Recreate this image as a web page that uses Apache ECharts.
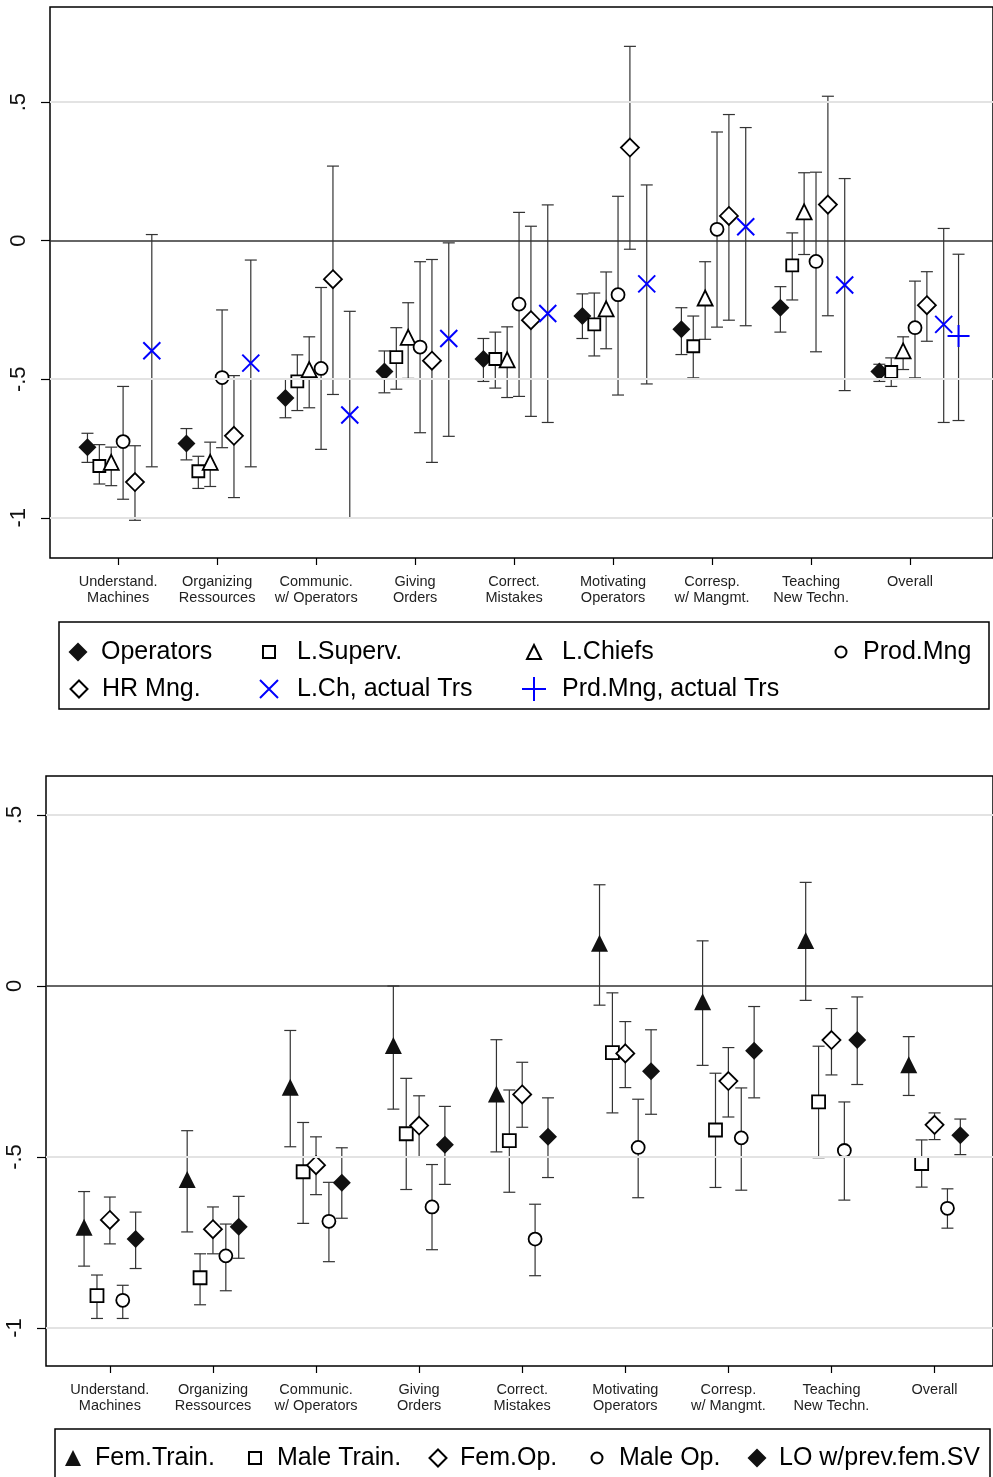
<!DOCTYPE html>
<html>
<head>
<meta charset="utf-8">
<script src="https://cdn.jsdelivr.net/npm/echarts@6/dist/echarts.min.js"></script>
<style>
html, body { margin: 0; padding: 0; background: #fff; }
#main { width: 993px; height: 1477px; }
</style>
</head>
<body>
<div id="main"></div>
<script>
var categories = ['Understand.\nMachines', 'Organizing\nRessources', 'Communic.\nw/ Operators', 'Giving\nOrders',
    'Correct.\nMistakes', 'Motivating\nOperators', 'Corresp.\nw/ Mangmt.', 'Teaching\nNew Techn.', 'Overall'];
var catTicks = [1, 2, 3, 4, 5, 6, 7, 8, 9];
var yTicks = [-1, -0.5, 0, 0.5];

// top panel, each entry: [estimate, ci low, ci high]
var operators = [[-0.745, -0.800, -0.695], [-0.732, -0.791, -0.678], [-0.568, -0.639, -0.500], [-0.472, -0.549, -0.398],
    [-0.427, -0.508, -0.353], [-0.272, -0.353, -0.192], [-0.320, -0.411, -0.242], [-0.242, -0.330, -0.166], [-0.472, -0.508, -0.446]];
var lSuperv = [[-0.813, -0.878, -0.736], [-0.832, -0.894, -0.778], [-0.508, -0.613, -0.412], [-0.420, -0.536, -0.314],
    [-0.427, -0.532, -0.330], [-0.302, -0.416, -0.189], [-0.381, -0.495, -0.272], [-0.089, -0.214, 0.028], [-0.474, -0.526, -0.423]];
var lChiefs = [[-0.800, -0.884, -0.745], [-0.800, -0.887, -0.727], [-0.465, -0.603, -0.347], [-0.349, -0.497, -0.224],
    [-0.430, -0.566, -0.311], [-0.246, -0.390, -0.113], [-0.207, -0.356, -0.076], [0.104, -0.050, 0.245], [-0.398, -0.465, -0.347]];
var prodMng = [[-0.725, -0.933, -0.526], [-0.494, -0.747, -0.250], [-0.461, -0.753, -0.169], [-0.384, -0.693, -0.076],
    [-0.229, -0.562, 0.102], [-0.195, -0.557, 0.160], [0.041, -0.312, 0.392], [-0.075, -0.401, 0.247], [-0.314, -0.495, -0.146]];
var hrMng = [[-0.871, -1.009, -0.740], [-0.704, -0.927, -0.487], [-0.139, -0.555, 0.269], [-0.433, -0.800, -0.068],
    [-0.287, -0.634, 0.052], [0.336, -0.031, 0.701], [0.089, -0.287, 0.455], [0.130, -0.271, 0.521], [-0.233, -0.363, -0.112]];
var lChActual = [[-0.397, -0.816, 0.022], [-0.442, -0.816, -0.070], [-0.629, -1.000, -0.255], [-0.353, -0.706, -0.008],
    [-0.263, -0.656, 0.129], [-0.156, -0.517, 0.201], [0.050, -0.307, 0.408], [-0.160, -0.541, 0.224], [-0.302, -0.656, 0.044]];
var prdMngActual = [null, null, null, null, null, null, null, null, [-0.344, -0.649, -0.049]];

// bottom panel
var femTrain = [[-0.705, -0.819, -0.601], [-0.566, -0.719, -0.423], [-0.296, -0.470, -0.130], [-0.174, -0.360, 0.000],
    [-0.316, -0.485, -0.157], [0.125, -0.056, 0.296], [-0.046, -0.232, 0.132], [0.133, -0.042, 0.303], [-0.230, -0.320, -0.148]];
var maleTrain = [[-0.905, -0.972, -0.845], [-0.853, -0.932, -0.783], [-0.543, -0.694, -0.399], [-0.432, -0.595, -0.270],
    [-0.452, -0.603, -0.304], [-0.195, -0.371, -0.020], [-0.421, -0.589, -0.255], [-0.339, -0.502, -0.176], [-0.519, -0.588, -0.450]];
var femOp = [[-0.684, -0.754, -0.617], [-0.711, -0.783, -0.646], [-0.524, -0.610, -0.441], [-0.408, -0.501, -0.321],
    [-0.317, -0.413, -0.223], [-0.197, -0.297, -0.104], [-0.278, -0.383, -0.180], [-0.158, -0.260, -0.066], [-0.406, -0.449, -0.371]];
var maleOp = [[-0.919, -0.972, -0.875], [-0.789, -0.891, -0.696], [-0.688, -0.806, -0.574], [-0.646, -0.771, -0.522],
    [-0.740, -0.847, -0.638], [-0.472, -0.619, -0.331], [-0.444, -0.597, -0.298], [-0.481, -0.626, -0.339], [-0.650, -0.708, -0.593]];
var loPrevFemSV = [[-0.740, -0.826, -0.661], [-0.704, -0.796, -0.615], [-0.575, -0.679, -0.473], [-0.464, -0.580, -0.352],
    [-0.441, -0.560, -0.327], [-0.249, -0.375, -0.128], [-0.189, -0.327, -0.060], [-0.158, -0.288, -0.032], [-0.436, -0.493, -0.389]];

var FONT = '"Liberation Sans", Arial, Helvetica, sans-serif';
var BLACK = '#000', BLUE = '#0000ff';
var XMARK = 'path://M0,0L10,10M10,0L0,10';
var PLUS = 'path://M5,0L5,10M0,5L10,5';

var hollow = {color: '#fff', borderColor: BLACK, borderWidth: 1.8, opacity: 1};
var filled = {color: '#111', opacity: 1};
var blueLine = {color: BLUE, borderColor: BLUE, borderWidth: 2, opacity: 1};

// leg: [icon centre x, row centre y, icon size, text start x]
var topSpecs = [
    {name: 'Operators', data: operators, dx: -0.31, symbol: 'diamond', size: 18, style: filled, leg: [78, 652, 19, 101]},
    {name: 'L.Superv.', data: lSuperv, dx: -0.19, symbol: 'rect', size: 12, style: hollow, leg: [268, 652, 12, 296]},
    {name: 'L.Chiefs', data: lChiefs, dx: -0.07, symbol: 'triangle', size: 15, style: hollow, leg: [533, 652, 14, 561]},
    {name: 'Prod.Mng', data: prodMng, dx: 0.05, symbol: 'circle', size: 13, style: hollow, leg: [840, 652, 11, 862]},
    {name: 'HR Mng.', data: hrMng, dx: 0.17, symbol: 'diamond', size: 18, style: hollow, leg: [78, 689, 17, 101]},
    {name: 'L.Ch, actual Trs', data: lChActual, dx: 0.34, symbol: XMARK, size: 17, style: blueLine, leg: [268, 689, 18, 296]},
    {name: 'Prd.Mng, actual Trs', data: prdMngActual, dx: 0.49, symbol: PLUS, size: 22, style: blueLine, leg: [533, 689, 24, 561]}
];
var bottomSpecs = [
    {name: 'Fem.Train.', data: femTrain, dx: -0.25, symbol: 'triangle', size: 17, style: filled, leg: [73, 1458, 16, 95]},
    {name: 'Male Train.', data: maleTrain, dx: -0.125, symbol: 'rect', size: 13, style: hollow, leg: [254, 1458, 12, 276]},
    {name: 'Fem.Op.', data: femOp, dx: 0, symbol: 'diamond', size: 18, style: hollow, leg: [437, 1458, 17, 459]},
    {name: 'Male Op.', data: maleOp, dx: 0.125, symbol: 'circle', size: 13, style: hollow, leg: [596, 1458, 11, 618]},
    {name: 'LO w/prev.fem.SV', data: loPrevFemSV, dx: 0.25, symbol: 'diamond', size: 18, style: filled, leg: [757, 1458, 19, 779]}
];

function renderCap(params, api) {
    var x = api.value(0);
    var lo = api.coord([x, api.value(1)]);
    var hi = api.coord([x, api.value(2)]);
    var w = 6;
    var st = {stroke: '#333', lineWidth: 1.2};
    return {type: 'group', children: [
        {type: 'line', shape: {x1: lo[0], y1: lo[1], x2: hi[0], y2: hi[1]}, style: st},
        {type: 'line', shape: {x1: lo[0] - w, y1: lo[1], x2: lo[0] + w, y2: lo[1]}, style: st},
        {type: 'line', shape: {x1: hi[0] - w, y1: hi[1], x2: hi[0] + w, y2: hi[1]}, style: st}
    ]};
}

function refLines() {
    var grey = {color: '#e3e3e3', width: 2, type: 'solid'};
    return {
        silent: true, symbol: ['none', 'none'], label: {show: false}, animation: false,
        data: [
            {yAxis: -1, lineStyle: grey}, {yAxis: -0.5, lineStyle: grey}, {yAxis: 0.5, lineStyle: grey},
            {yAxis: 0, lineStyle: {color: '#333', width: 1.6, type: 'solid'}}
        ]
    };
}

var series = [], legends = [];
function build(specs, gi) {
    specs.forEach(function (s, k) {
        var pts = [], bars = [];
        s.data.forEach(function (d, i) {
            if (!d) return;
            pts.push([catTicks[i] + s.dx, d[0]]);
            bars.push([catTicks[i] + s.dx, d[1], d[2]]);
        });
        var cs = {
            type: 'custom', name: s.name + ' ci', xAxisIndex: gi, yAxisIndex: gi, data: bars,
            encode: {x: 0, y: [1, 2]}, renderItem: renderCap, silent: true, z: 2
        };
        if (k === 0) { cs.markLine = refLines(); }
        series.push(cs);
        series.push({
            type: 'scatter', name: s.name, xAxisIndex: gi, yAxisIndex: gi, data: pts,
            symbol: s.symbol, symbolSize: s.size, itemStyle: s.style, z: 3, silent: true
        });
        var sz = s.leg[2], left = s.leg[0] - sz / 2;
        legends.push({
            data: [s.name], left: left, top: s.leg[1] - 15, padding: 0,
            itemWidth: sz, itemHeight: sz, selectedMode: false,
            textStyle: {
                fontSize: 25, color: '#000', fontFamily: FONT, lineHeight: 30,
                padding: [0, 0, 0, Math.max(0, s.leg[3] - (left + sz + 5))]
            }
        });
    });
}
build(topSpecs, 0);
build(bottomSpecs, 1);

function xAxis(gi, min, max) {
    return {
        type: 'value', gridIndex: gi, min: min, max: max,
        axisLine: {show: false, onZero: false}, splitLine: {show: false},
        axisTick: {show: true, customValues: catTicks, length: 7, lineStyle: {color: BLACK, width: 1.2}},
        axisLabel: {
            customValues: catTicks, margin: 16, fontSize: 14.5, lineHeight: 16, color: '#222', fontFamily: FONT,
            formatter: function (v) { return categories[Math.round(v) - 1] || ''; }
        }
    };
}
function yAxis(gi, min, max) {
    return {
        type: 'value', gridIndex: gi, min: min, max: max,
        axisLine: {show: false, onZero: false}, splitLine: {show: false},
        axisTick: {show: true, customValues: yTicks, length: 9, lineStyle: {color: BLACK, width: 1.2}},
        axisLabel: {
            customValues: yTicks, rotate: 90, margin: 20, fontSize: 22, color: '#111', fontFamily: FONT,
            formatter: function (v) {
                if (v === 0) return '0';
                return (v < 0 ? '-' : '') + String(Math.abs(v)).replace(/^0/, '');
            }
        }
    };
}

var chart = echarts.init(document.getElementById('main'), null, {renderer: 'canvas'});
chart.setOption({
    animation: false,
    backgroundColor: '#fff',
    grid: [
        {left: 50, top: 7, width: 945, height: 551, show: true, borderColor: BLACK, borderWidth: 1.5, backgroundColor: '#fff'},
        {left: 46, top: 776, width: 949, height: 590, show: true, borderColor: BLACK, borderWidth: 1.5, backgroundColor: '#fff'}
    ],
    xAxis: [xAxis(0, 0.3115, 9.838), xAxis(1, 0.3805, 9.567)],
    yAxis: [yAxis(0, -1.145, 0.843), yAxis(1, -1.111, 0.614)],
    legend: legends,
    graphic: [
        {type: 'rect', shape: {x: 59, y: 622, width: 930, height: 87}, style: {fill: 'none', stroke: BLACK, lineWidth: 1.5}, z: 0},
        {type: 'rect', shape: {x: 55, y: 1429, width: 935, height: 70}, style: {fill: 'none', stroke: BLACK, lineWidth: 1.5}, z: 0}
    ],
    series: series
});
</script>
</body>
</html>
